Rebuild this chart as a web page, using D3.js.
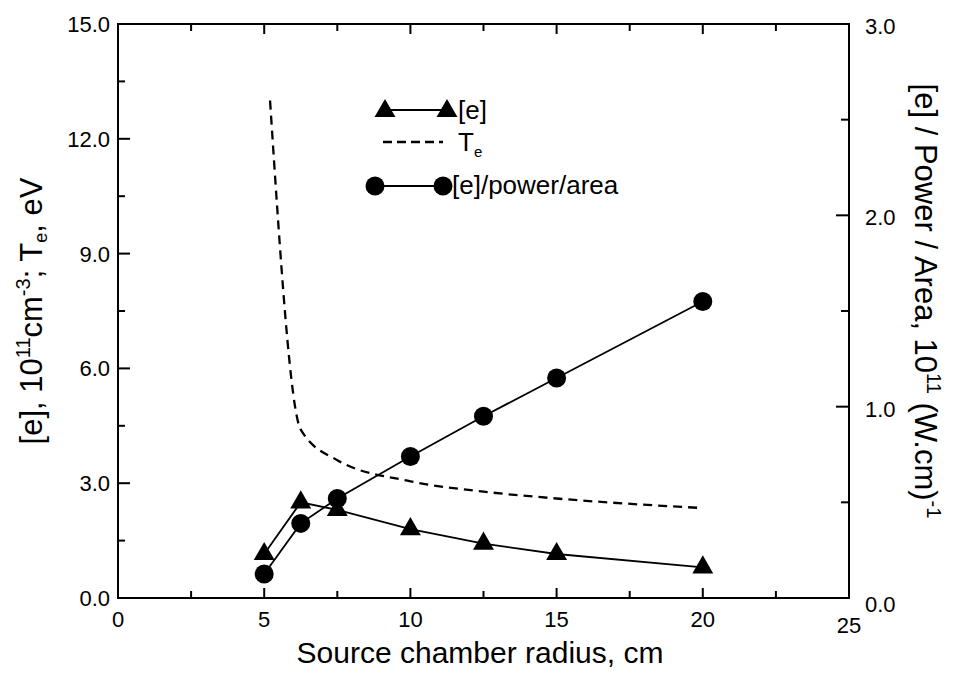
<!DOCTYPE html>
<html>
<head>
<meta charset="utf-8">
<script src="https://cdn.jsdelivr.net/npm/d3@7"></script>
<style>
  html, body { margin: 0; padding: 0; background: #fff; }
  svg { display: block; font-family: "Liberation Sans", Arial, Helvetica, sans-serif; }
</style>
</head>
<body>
<svg id="chart" width="955" height="673"></svg>
<script>
// ---- data ----
const radius = [5, 6.25, 7.5, 10, 12.5, 15, 20];
const density = [1.15, 2.5, 2.3, 1.8, 1.42, 1.15, 0.8];          // [e], 1e11 cm^-3 (left axis)
const densityPerPowerArea = [0.125, 0.39, 0.52, 0.74, 0.95, 1.15, 1.55]; // right axis
const teRadius = [5.2, 6.25, 7.5, 10, 12.5, 15, 20];
const electronTemp = [13.0, 4.4, 3.6, 3.05, 2.78, 2.6, 2.35];     // T_e, eV (left axis)
const xTicks = [0, 5, 10, 15, 20, 25];
const yLeftTicks = [0, 3, 6, 9, 12, 15];
const yRightTicks = [0, 1, 2, 3];

// ---- layout ----
const L = 118, R = 849, T = 24, B = 598;
const svg = d3.select("#chart");
const x = d3.scaleLinear().domain([0, 25]).range([L, R]);
const yL = d3.scaleLinear().domain([0, 15]).range([B, T]);
const yR = d3.scaleLinear().domain([0, 3]).range([B, T]);

// frame
svg.append("rect").attr("x", L).attr("y", T).attr("width", R - L).attr("height", B - T)
  .attr("fill", "none").attr("stroke", "#000").attr("stroke-width", 2);

// ticks (inward)
const tk = svg.append("g").attr("stroke", "#000").attr("stroke-width", 2);
d3.range(0, 25.01, 2.5).forEach(v => {
  const major = Math.abs(v % 5) < 1e-6;
  const len = major ? 10 : 7;
  tk.append("line").attr("x1", x(v)).attr("x2", x(v)).attr("y1", B).attr("y2", B - len);
  tk.append("line").attr("x1", x(v)).attr("x2", x(v)).attr("y1", T).attr("y2", T + len);
});
d3.range(0, 15.01, 1.5).forEach(v => {
  const major = Math.abs(v % 3) < 1e-6;
  tk.append("line").attr("x1", L).attr("x2", L + (major ? 12 : 7)).attr("y1", yL(v)).attr("y2", yL(v));
});
d3.range(0, 3.01, 0.5).forEach(v => {
  const major = Math.abs(v % 1) < 1e-6;
  tk.append("line").attr("x1", R).attr("x2", R - (major ? 13 : 8)).attr("y1", yR(v)).attr("y2", yR(v));
});

// tick labels
const lab = svg.append("g").attr("font-size", 22).attr("fill", "#000");
xTicks.forEach(v => {
  lab.append("text").attr("x", x(v)).attr("y", B + 29 + (v === 25 ? 6 : 0))
    .attr("text-anchor", "middle").text(v);
});
yLeftTicks.forEach(v => {
  lab.append("text").attr("x", L - 8).attr("y", yL(v)).attr("dy", "0.36em")
    .attr("text-anchor", "end").text(v.toFixed(1));
});
yRightTicks.forEach(v => {
  lab.append("text").attr("x", R + 16).attr("y", yR(v) + (v === 0 ? 6 : 2)).attr("dy", "0.36em")
    .attr("text-anchor", "start").text(v.toFixed(1));
});

// axis titles
svg.append("text").attr("x", 480).attr("y", 663).attr("text-anchor", "middle")
  .attr("font-size", 30).text("Source chamber radius, cm");

const lt = svg.append("text").attr("transform", "translate(42,311) rotate(-90)")
  .attr("text-anchor", "middle").attr("font-size", 31);
lt.append("tspan").text("[e], 10");
lt.append("tspan").attr("font-size", 20).attr("dy", -12).text("11");
lt.append("tspan").attr("dy", 12).text("cm");
lt.append("tspan").attr("font-size", 20).attr("dy", -12).text("-3");
lt.append("tspan").attr("dy", 12).text("; T");
lt.append("tspan").attr("font-size", 18).attr("dy", 5).text("e");
lt.append("tspan").attr("dy", -5).text(", eV");

const rt = svg.append("text").attr("transform", "translate(915,301) rotate(90)")
  .attr("text-anchor", "middle").attr("font-size", 31);
rt.append("tspan").text("[e] / Power / Area, 10");
rt.append("tspan").attr("font-size", 20).attr("dy", -12).text("11");
rt.append("tspan").attr("dy", 12).text(" (W.cm)");
rt.append("tspan").attr("font-size", 20).attr("dy", -12).text("-1");

// ---- series ----
const tri = d3.symbol().type(d3.symbolTriangle).size(190);

// T_e dashed curve
const teLine = d3.line().curve(d3.curveMonotoneX)
  .x((d, i) => x(teRadius[i])).y(d => yL(d));
svg.append("path").attr("d", teLine(electronTemp)).attr("fill", "none")
  .attr("stroke", "#000").attr("stroke-width", 2.3).attr("stroke-dasharray", "9,6");

// [e] triangles
const eLine = d3.line().x((d, i) => x(radius[i])).y(d => yL(d));
svg.append("path").attr("d", eLine(density)).attr("fill", "none")
  .attr("stroke", "#000").attr("stroke-width", 1.8);
svg.append("g").selectAll("path").data(density).join("path")
  .attr("d", tri).attr("transform", (d, i) => `translate(${x(radius[i])},${yL(d)})`)
  .attr("fill", "#000");

// [e]/power/area circles
const cLine = d3.line().x((d, i) => x(radius[i])).y(d => yR(d));
svg.append("path").attr("d", cLine(densityPerPowerArea)).attr("fill", "none")
  .attr("stroke", "#000").attr("stroke-width", 1.8);
svg.append("g").selectAll("circle").data(densityPerPowerArea).join("circle")
  .attr("cx", (d, i) => x(radius[i])).attr("cy", d => yR(d)).attr("r", 9.5)
  .attr("fill", "#000");

// ---- legend ----
const lg = svg.append("g");
lg.append("line").attr("x1", 385).attr("x2", 447).attr("y1", 110).attr("y2", 110)
  .attr("stroke", "#000").attr("stroke-width", 1.8);
[385, 447].forEach(cx => lg.append("path").attr("d", tri)
  .attr("transform", `translate(${cx},111)`).attr("fill", "#000"));
lg.append("text").attr("x", 458).attr("y", 119).attr("font-size", 26).text("[e]");

lg.append("line").attr("x1", 383).attr("x2", 443).attr("y1", 142).attr("y2", 142)
  .attr("stroke", "#000").attr("stroke-width", 2.3).attr("stroke-dasharray", "9,5");
const lgT = lg.append("text").attr("x", 458).attr("y", 151).attr("font-size", 26);
lgT.append("tspan").text("T");
lgT.append("tspan").attr("font-size", 15).attr("dy", 6).text("e");

lg.append("line").attr("x1", 375).attr("x2", 443).attr("y1", 186).attr("y2", 186)
  .attr("stroke", "#000").attr("stroke-width", 1.8);
[375, 443].forEach(cx => lg.append("circle").attr("cx", cx).attr("cy", 186).attr("r", 9.5)
  .attr("fill", "#000"));
lg.append("text").attr("x", 452).attr("y", 194).attr("font-size", 26).text("[e]/power/area");
</script>
</body>
</html>
